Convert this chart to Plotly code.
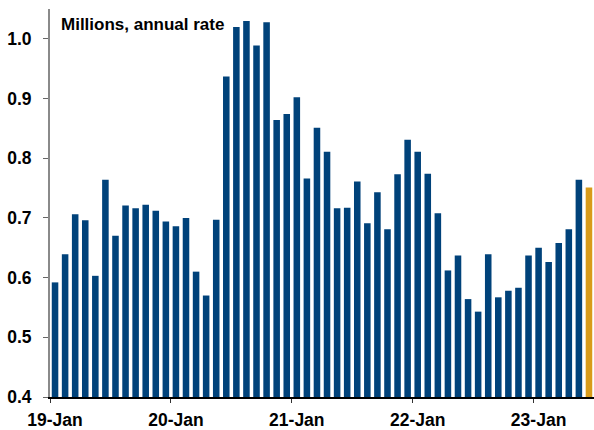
import plotly.graph_objects as go

# Monthly sales, Jan 2019 - Jun 2023 (millions, annual rate)
months = [f"{y}-{m:02d}" for y in range(2019, 2024) for m in range(1, 13)][:54]
sales = [
    0.592, 0.639, 0.706, 0.696, 0.603, 0.764, 0.670, 0.721, 0.716, 0.722, 0.712, 0.694,
    0.686, 0.700, 0.610, 0.570, 0.697, 0.937, 1.020, 1.030, 0.989, 1.028, 0.864, 0.874,
    0.902, 0.766, 0.851, 0.811, 0.716, 0.717, 0.761, 0.691, 0.743, 0.681, 0.773, 0.831,
    0.811, 0.774, 0.708, 0.612, 0.637, 0.564, 0.543, 0.639, 0.567, 0.578, 0.583, 0.637,
    0.650, 0.626, 0.658, 0.681, 0.764, 0.751,
]
year_starts = [0, 12, 24, 36, 48]
tick_text = ["19-Jan", "20-Jan", "21-Jan", "22-Jan", "23-Jan"]
y_ticks = [0.4, 0.5, 0.6, 0.7, 0.8, 0.9, 1.0]
FLOOR = 0.4

BLUE = "#00427A"
GOLD = "#D89B1A"
colors = [BLUE] * (len(sales) - 1) + [GOLD]
x = [i + 0.5 for i in range(len(sales))]  # month centres

fig = go.Figure(
    go.Bar(
        x=x,
        y=[v - FLOOR for v in sales],
        base=FLOOR,
        marker=dict(color=colors, line=dict(width=0)),
        width=0.65,
        customdata=list(zip(months, sales)),
        hovertemplate="%{customdata[0]}: %{customdata[1]:.3f}<extra></extra>",
    )
)

FONT = "Liberation Sans, Arial, sans-serif"

fig.update_layout(
    width=594,
    height=430,
    margin=dict(l=50, r=0, t=9, b=31),
    paper_bgcolor="white",
    plot_bgcolor="white",
    showlegend=False,
    font=dict(family=FONT, size=17, color="black"),
    annotations=[
        dict(
            text="<b>Millions, annual rate</b>",
            xref="paper", yref="paper",
            x=0.016, y=0.96,
            xanchor="left", yanchor="middle",
            showarrow=False,
            font=dict(family=FONT, size=17, color="black"),
        )
    ],
)

# labels sit on the January bar; tick marks sit on the year boundary
fig.update_xaxes(
    range=[0, 54],
    tickmode="array",
    tickvals=[s + 0.5 for s in year_starts],
    ticktext=[f"<b>{t}</b>" for t in tick_text],
    ticks="",
    minor=dict(
        tickmode="array",
        tickvals=year_starts,
        ticks="outside",
        ticklen=4,
        tickwidth=1.3,
        tickcolor="#333333",
        showgrid=False,
    ),
    showline=True,
    linecolor="black",
    linewidth=1.5,
    showgrid=False,
    zeroline=False,
    tickfont=dict(family=FONT, size=17.5, color="black"),
    ticklabelstandoff=6,
)
fig.update_yaxes(
    range=[FLOOR, 1.05],
    tickmode="array",
    tickvals=y_ticks,
    ticktext=[f"<b>{v:.1f}</b>" for v in y_ticks],
    ticks="outside",
    ticklen=5,
    tickwidth=1.3,
    tickcolor="#666666",
    showline=True,
    linecolor="#8a8a8a",
    linewidth=2,
    showgrid=False,
    zeroline=False,
    tickfont=dict(family=FONT, size=17.5, color="black"),
    ticklabelstandoff=8,
)

fig.write_html("out.html")
